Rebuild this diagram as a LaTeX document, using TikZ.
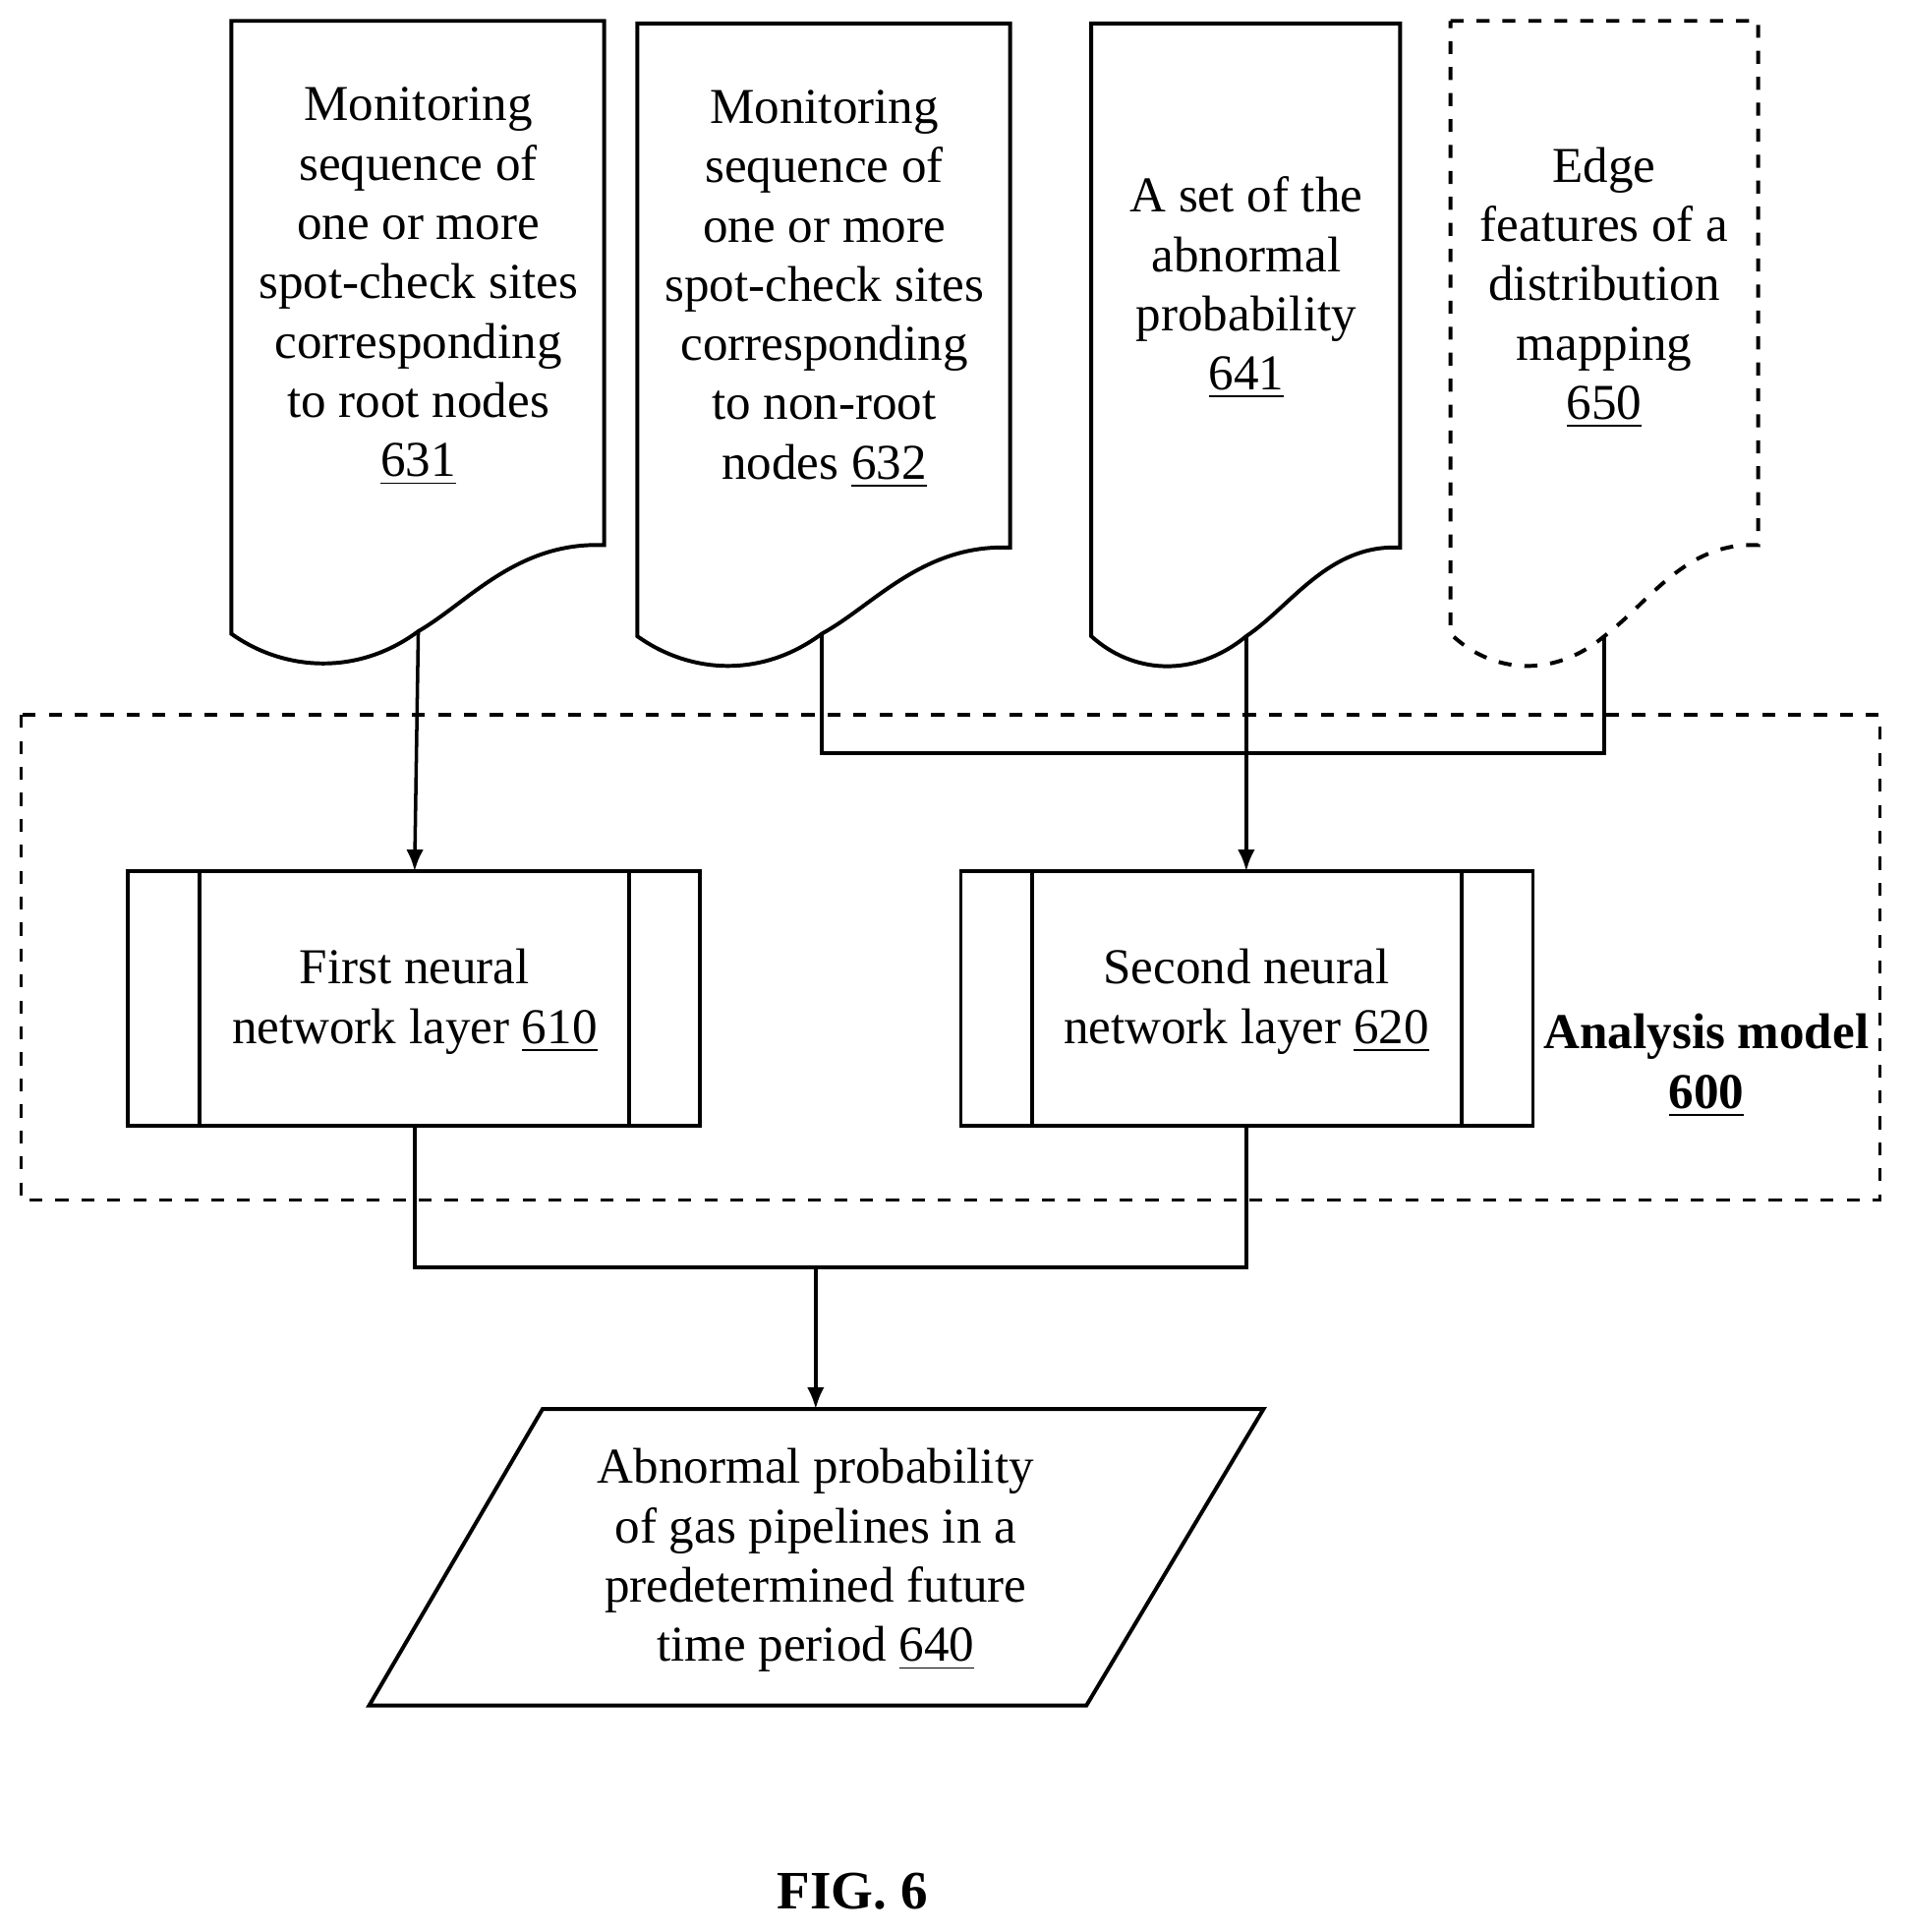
\documentclass[tikz,border=0pt]{standalone}
\usepackage{fontspec}
\setmainfont{Liberation Serif}
\usetikzlibrary{calc,arrows.meta}
\tikzset{
  doc/.style={draw,line width=0.9pt},
  txt/.style={align=center,font=\fontsize{11.6}{13.7}\selectfont},
  arr/.style={-{Latex[length=5pt,width=4pt]},line width=0.8pt},
  conn/.style={line width=0.8pt}
}
\begin{document}
\begin{tikzpicture}[x=0.01cm,y=-0.01cm]
\useasboundingbox (0,0) rectangle (1548,1570);
% documents
\draw[doc] (188,17) -- (491,17) -- (491,443) .. controls (420,440) and (380,490) .. (340,513) .. controls (290,550) and (230,545) .. (188,515) -- cycle;
\coordinate (d631) at (340,513);
\node[txt] (t631) at (340,233) {Monitoring\\sequence of\\one or more\\spot-check sites\\corresponding\\to root nodes\\\underline{631}};
\draw[doc] (518,19) -- (821,19) -- (821,445) .. controls (750,442) and (710,492) .. (668,515) .. controls (618,552) and (560,547) .. (518,517) -- cycle;
\coordinate (d632) at (668,515);
\node[txt] (t632) at (670,235) {Monitoring\\sequence of\\one or more\\spot-check sites\\corresponding\\to non-root\\nodes \underline{632}};
\draw[doc] (887,19) -- (1138,19) -- (1138,445) .. controls (1080,442) and (1050,492) .. (1013,517) .. controls (970,552) and (920,547) .. (887,517) -- cycle;
\coordinate (d641) at (1013,517);
\node[txt] (t641) at (1013,234) {A set of the\\abnormal\\probability\\\underline{641}};
\draw[doc,dashed] (1179,17) -- (1429,17) -- (1429,443) .. controls (1370,440) and (1340,490) .. (1304,517) .. controls (1262,552) and (1212,547) .. (1179,515) -- cycle;
\coordinate (d650) at (1304,517);
\node[txt] (t650) at (1304,234) {Edge\\features of a\\distribution\\mapping\\\underline{650}};
% analysis model
\draw[conn,dashed] (17,581) rectangle (1528,975);
\node[txt,font=\fontsize{11.6}{13.7}\selectfont\bfseries] (am) at (1387,866) {Analysis model\\\underline{600}};
% layers
\draw[doc] (104,708) rectangle (569,915);
\draw[doc] (162,708) -- (162,915) (511,708) -- (511,915);
\node[txt] (l610) at (337,814) {First neural\\network layer \underline{610}};
\draw[doc] (781,708) rectangle (1246,915);
\draw[doc] (839,708) -- (839,915) (1188,708) -- (1188,915);
\node[txt] (l620) at (1013,814) {Second neural\\network layer \underline{620}};
\coordinate (i610) at (337,708);
\coordinate (i620) at (1013,708);
\coordinate (o610) at (337,915);
\coordinate (o620) at (1013,915);
% output
\draw[doc] (441,1145) -- (1027,1145) -- (883,1386) -- (300,1386) -- cycle;
\node[txt] (o640) at (663,1268) {Abnormal probability\\of gas pipelines in a\\predetermined future\\time period \underline{640}};
\coordinate (i640) at (663,1145);
% connectors
\draw[arr] (d631) -- (i610);
\draw[conn] (d632) |- (986,612) -| (d650);
\draw[arr] (d641) -- (i620);
\draw[conn] (o610) |- (663,1030) -| (o620);
\draw[arr] (663,1030) -- (i640);
\node[font=\fontsize{12.5}{15}\selectfont\bfseries] (fig) at (693,1537) {FIG. 6};
\end{tikzpicture}
\end{document}
